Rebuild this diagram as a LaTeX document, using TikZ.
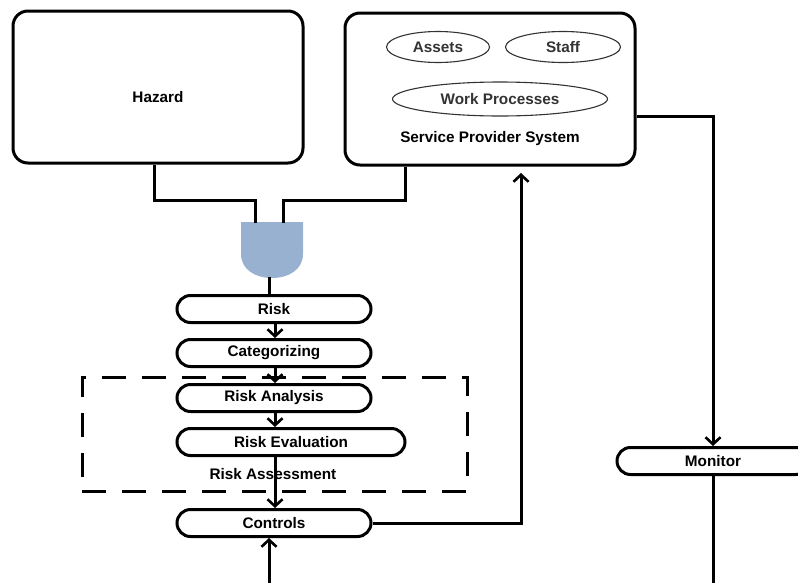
\documentclass[tikz,border=0pt]{standalone}
\usepackage{fontspec}
\setmainfont{Liberation Sans}
\usetikzlibrary{arrows.meta,calc}
\definecolor{gateblue}{HTML}{98B1D0}
\definecolor{ovalgray}{HTML}{333333}
\tikzset{
  bigbox/.style={draw, line width=3pt, rounded corners=15pt, minimum width=290pt, minimum height=152pt, inner sep=0pt},
  stadium/.style={draw, line width=3pt, rounded corners=13.5pt, minimum height=27pt, inner sep=0pt, font=\fontsize{15.3}{18}\selectfont\bfseries},
  oval/.style={draw=ovalgray, line width=1.1pt, ellipse, inner sep=0pt, text=ovalgray, font=\fontsize{15.3}{18}\selectfont\bfseries},
  lbl/.style={inner sep=0pt, font=\fontsize{15.3}{18}\selectfont\bfseries},
  conn/.style={line width=3pt},
  arr/.style={line width=3pt, -{Straight Barb[length=7pt,width=15pt,line width=2.6pt]}},
  dashbox/.style={draw, line width=3pt, dash pattern=on 24pt off 16pt, minimum width=385pt, minimum height=114pt, inner sep=0pt}
}
\usetikzlibrary{shapes.geometric}
\begin{document}
\begin{tikzpicture}[x=1pt,y=-1pt]
\useasboundingbox (0,0) rectangle (798,582);
\clip (0,0) rectangle (798,582);
% big boxes
\node[bigbox] (hazard) at (158,87) {};
\node[lbl] (hazardtxt) at (158,97) {Hazard};
\node[bigbox] (sps) at (490,89) {};
\node[oval, minimum width=103pt, minimum height=31pt] (assets) at (438,47) {Assets};
\node[oval, minimum width=115pt, minimum height=31pt] (staff) at (563,47) {Staff};
\node[oval, minimum width=215pt, minimum height=34pt] (work) at (500,99) {Work Processes};
\node[lbl] (spstxt) at (490,139) {Service Provider System};
% gate
\fill[gateblue] (241,222) -- (303,222) -- (303,254) .. controls (303,270) and (288,278) .. (272,278) .. controls (256,278) and (241,270) .. (241,254) -- cycle;
\coordinate (gin1) at (255,223);
\coordinate (gin2) at (283,223);
\coordinate (gout) at (269,277);
% flow boxes
\node[stadium, minimum width=194pt] (risk) at (274,309) {Risk};
\node[stadium, minimum width=194pt] (cat) at (274,353) {Categorizing};
\node[stadium, minimum width=194pt] (ranal) at (274,398) {Risk Analysis};
\node[stadium, minimum width=228pt] (reval) at (291,442) {Risk Evaluation};
\node[stadium, minimum width=194pt] (controls) at (274,523) {Controls};
\node[stadium, minimum width=192pt] (monitor) at (713,461) {Monitor};
% dashed region
\node[dashbox] (assess) at (274.5,434) {};
\node[lbl] (assesstxt) at (273,474) {Risk Assessment};
% connectors
\draw[conn] ([xshift=-4pt]hazard.south) -- ++(0,36) -| (gin1);
\draw[conn] ([xshift=-85pt]sps.south) -- ++(0,34) -| (gin2);
\draw[conn] (gout) -- (gout |- risk.north);
\draw[arr] ([xshift=1pt]risk.south) -- ([xshift=1pt]cat.north);
\draw[arr] ([xshift=1pt]cat.south) -- ([xshift=1pt]ranal.north);
\draw[arr] ([xshift=1pt]ranal.south) -- ([xshift=1pt]ranal.south |- reval.north);
\draw[arr] ([xshift=1pt]ranal.south |- reval.south) -- ([xshift=1pt]controls.north);
\coordinate (spsin) at (521,173);
\draw[arr] (controls.east) -| (spsin);
\draw[arr] ([yshift=-27pt]sps.east) -| (monitor.north);
\coordinate (bot1) at (269,590);
\coordinate (bot2) at (713,590);
\draw[arr] (bot1) -- (bot1 |- controls.south);
\draw[conn] (monitor.south) -- (bot2);
\end{tikzpicture}
\end{document}
